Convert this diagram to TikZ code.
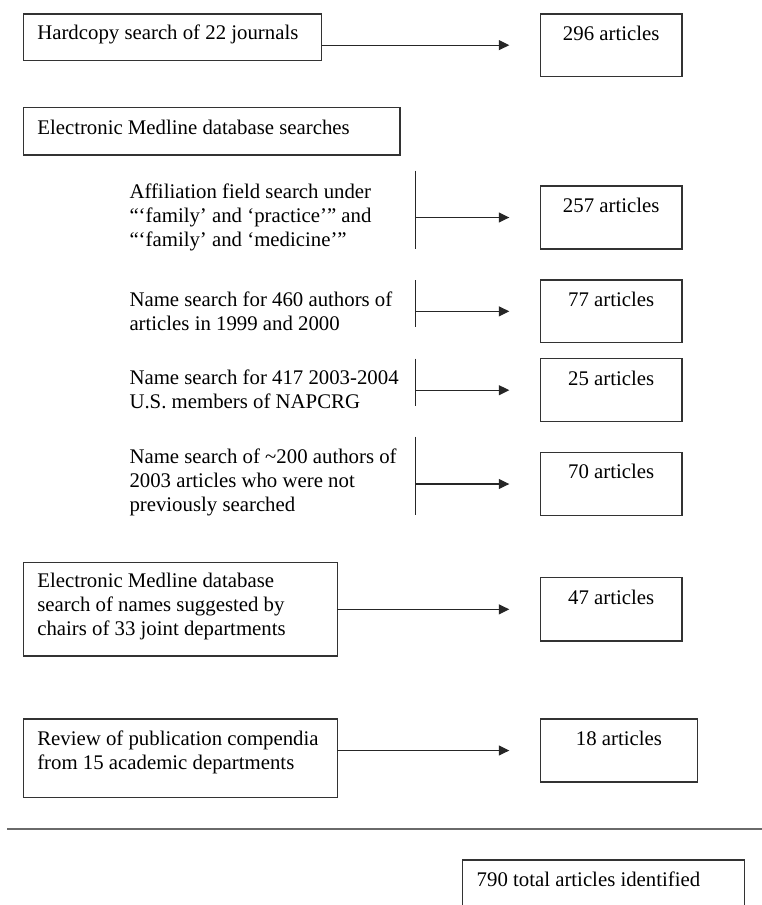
\documentclass[tikz,border=0pt]{standalone}
\usepackage{fontspec}
\setmainfont{Liberation Serif}
\usetikzlibrary{arrows.meta}
\definecolor{boxline}{HTML}{333333}
\definecolor{ruleline}{HTML}{6A6A6A}
\begin{document}
\begin{tikzpicture}[x=1pt,y=-1pt,
  every node/.style={font=\fontsize{20.8}{23.8}\selectfont, inner sep=0pt, outer sep=0pt},
  boxnode/.style={draw=boxline, line width=1.2pt, anchor=north west, rectangle},
  resultbox/.style={boxnode, minimum width=141.7pt, minimum height=63pt},
  txt/.style={anchor=base west, align=left},
  ctxt/.style={anchor=base},
  conn/.style={draw=black!85, line width=1.1pt, -{Triangle[length=10.5pt,width=10pt]}, shorten >=31pt},
  bracket/.style={draw=black!85, line width=1.1pt}]
\path[use as bounding box, clip] (0,0) rectangle (762,905);

% boxes
\node[boxnode, minimum width=298.4pt, minimum height=46.7pt] (h1) at (23.3,14) {};
\node[resultbox, minimum height=62.3pt] (r296) at (540.3,14) {};
\node[boxnode, minimum width=376.7pt, minimum height=47.3pt] (e1) at (23.3,107.7) {};
\node[resultbox] (r257) at (540.3,186) {};
\node[resultbox, minimum height=62.7pt] (r77) at (540.3,280) {};
\node[resultbox] (r25) at (540.3,358.7) {};
\node[resultbox, minimum height=62.6pt] (r70) at (540.3,452.7) {};
\node[boxnode, minimum width=314pt, minimum height=93.3pt] (e2) at (23.3,562.7) {};
\node[resultbox, minimum height=63.3pt] (r47) at (540.3,577.7) {};
\node[boxnode, minimum width=314pt, minimum height=78.7pt] (rv) at (23.3,719) {};
\node[resultbox, minimum width=157.4pt] (r18) at (540.3,719) {};
\node[boxnode, minimum width=281.6pt, minimum height=80pt] (tot) at (462.7,860) {};

% texts (multi-line nodes: base = baseline of last line)
\node[txt] (t1) at (37.3,39.3) {Hardcopy search of 22 journals};
\node[ctxt] (t296) at (611.2,40) {296 articles};
\node[txt] (t2) at (37.3,134) {Electronic Medline database searches};
\node[txt] (t3) at (129.5,246) {Affiliation field search under\\“‘family’ and ‘practice’” and\\“‘family’ and ‘medicine’”};
\node[ctxt] (t257) at (611.2,212.3) {257 articles};
\node[txt] (t4) at (129.5,330) {Name search for 460 authors of\\articles in 1999 and 2000};
\node[ctxt] (t77) at (611.2,306.5) {77 articles};
\node[txt] (t5) at (129.5,408.5) {Name search for 417 2003-2004\\U.S. members of NAPCRG};
\node[ctxt] (t25) at (611.2,385) {25 articles};
\node[txt] (t6) at (129.5,511) {Name search of \textasciitilde200 authors of\\2003 articles who were not\\previously searched};
\node[ctxt] (t70) at (611.2,478.5) {70 articles};
\node[txt] (t7) at (37.3,635) {Electronic Medline database\\search of names suggested by\\chairs of 33 joint departments};
\node[ctxt] (t47) at (611.2,604) {47 articles};
\node[txt] (t8) at (37.3,769.5) {Review of publication compendia\\from 15 academic departments};
\node[ctxt] (t18) at (619,745.7) {18 articles};
\node[txt] (t9) at (476.7,886.7) {790 total articles identified};

% bracket lines
\coordinate (v1a) at (415.3,170.7); \coordinate (v1b) at (415.3,249);
\coordinate (v2a) at (415.3,280);   \coordinate (v2b) at (415.3,327.3);
\coordinate (v3a) at (415.3,358.7); \coordinate (v3b) at (415.3,405.7);
\coordinate (v4a) at (415.3,436.7); \coordinate (v4b) at (415.3,515.3);
\draw[bracket] (v1a) -- (v1b);
\draw[bracket] (v2a) -- (v2b);
\draw[bracket] (v3a) -- (v3b);
\draw[bracket] (v4a) -- (v4b);

% connectors
\draw[conn] (h1.east |- r296.west) -- (r296.west);
\draw[conn] (v1a |- r257.west) -- (r257.west);
\draw[conn] (v2a |- r77.west) -- (r77.west);
\draw[conn] (v3a |- r25.west) -- (r25.west);
\draw[conn] (v4a |- r70.west) -- (r70.west);
\draw[conn] (e2.east |- r47.west) -- (r47.west);
\draw[conn] (rv.east |- r18.west) -- (r18.west);

% rule
\coordinate (ra) at (7.3,828.7); \coordinate (rb) at (762,828.7);
\draw[draw=ruleline, line width=2pt] (ra) -- (rb);
\end{tikzpicture}
\end{document}
